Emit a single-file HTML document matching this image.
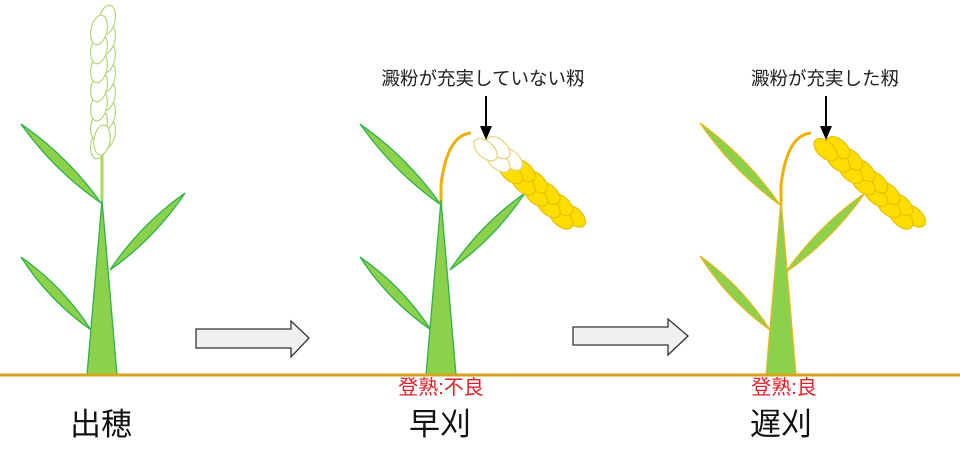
<!DOCTYPE html>
<html><head><meta charset="utf-8"><style>
html,body{margin:0;padding:0;background:#fff;width:960px;height:464px;overflow:hidden}
svg{display:block}
text{font-family:"Liberation Sans","Noto Sans CJK JP",sans-serif}
</style></head><body>
<svg id="s" width="960" height="464" viewBox="0 0 960 464" xmlns="http://www.w3.org/2000/svg">
<g id="g"></g>
<line x1="0" y1="375" x2="960" y2="375" stroke="#d9a21b" stroke-width="3"/>
<path d="M196,329 H291 V321 L309,338 L291,357 V348 H196 Z" fill="#f0f0f0" stroke="#333" stroke-width="1.3"/>
<path d="M573,327 H668 V319 L688,336 L668,355 V345 H573 Z" fill="#f0f0f0" stroke="#333" stroke-width="1.3"/>
<line x1="486" y1="96" x2="486" y2="128" stroke="#000" stroke-width="2"/>
<path d="M480,126 L492,126 L486,140 Z" fill="#000"/>
<line x1="826" y1="96" x2="826" y2="128" stroke="#000" stroke-width="2"/>
<path d="M820,126 L832,126 L826,140 Z" fill="#000"/>
<text x="483" y="85" font-size="18.5" text-anchor="middle" fill="#222">澱粉が充実していない籾</text>
<text x="825" y="85" font-size="18.5" text-anchor="middle" fill="#222">澱粉が充実した籾</text>
<text x="441" y="394" font-size="20" text-anchor="middle" fill="#e0202a">登熟:不良</text>
<text x="784" y="394" font-size="20" text-anchor="middle" fill="#e0202a">登熟:良</text>
<text x="101" y="435" font-size="31" text-anchor="middle" fill="#111">出穂</text>
<text x="440" y="435" font-size="31" text-anchor="middle" fill="#111">早刈</text>
<text x="781" y="435" font-size="31" text-anchor="middle" fill="#111">遅刈</text>
</svg>
<script>
var g=document.getElementById('g'),h='';
function leaf(a,b,c,d,w,st){var mx=(a+c)/2,my=(b+d)/2,dx=c-a,dy=d-b,L=Math.hypot(dx,dy),nx=-dy/L*w,ny=dx/L*w;
h+='<path d="M'+a+','+b+' Q'+(mx+nx)+','+(my+ny)+' '+c+','+d+' Q'+(mx-nx)+','+(my-ny)+' '+a+','+b+'Z" fill="#8cd04b" stroke="'+st+'" stroke-width="1.3"/>';}
function stem(x,top,st){h+='<path d="M'+(x-15)+',375 L'+x+','+top+' L'+(x+15)+',375Z" fill="#8cd04b" stroke="'+st+'" stroke-width="1.3"/>';}
function grain(cx,cy,rx,ry,ang,fill,st){h+='<ellipse cx="'+cx+'" cy="'+cy+'" rx="'+rx+'" ry="'+ry+'" transform="rotate('+ang+' '+cx+' '+cy+')" fill="'+fill+'" stroke="'+st+'" stroke-width="1.2"/>';}
h+='<line x1="102" y1="150" x2="102" y2="200" stroke="#a8d85a" stroke-width="3"/>';
for(var i=6;i>=0;i--){var y=20+i*19;grain(107,y,8,15,12,'#fff','#b5d67a');grain(99,y+10,8,15,12,'#fff','#b5d67a');}
grain(102,140,8,15,8,'#fff','#b5d67a');
leaf(21,124,101,203,10,'#2fb24a');leaf(110,270,185,193,10,'#2fb24a');leaf(21,257,91,330,10,'#2fb24a');
stem(102,200,'#2fb24a');
function bent(x0,whiteN){
 h+='<path d="M'+(x0)+',205 L'+x0+',185 Q'+(x0+6)+',135 '+(x0+30)+',133" fill="none" stroke="#f0b000" stroke-width="3"/>';
 var sx=x0+48,sy=146,dx=0.74,dy=0.67,px=0.67,py=-0.74,n=7;
 for(var i=n-1;i>=0;i--){var t=i*17;var cx=sx+dx*t,cy=sy+dy*t;
  var f=i<whiteN?'#fff':'#ffdd00',s=i<whiteN?'#e8d27a':'#e8c000';
  grain(cx+px*5+dx*8,cy+py*5+dy*8,14,8,42,f,s);grain(cx-px*5,cy-py*5,14,8,42,f,s);}
}
leaf(360,124,441,205,10,'#2fb24a');leaf(450,270,525,193,10,'#2fb24a');leaf(360,257,431,330,10,'#2fb24a');
bent(441,2);
stem(441,200,'#2fb24a');
leaf(700,123,780,205,10,'#e8b820');leaf(785,273,865,193,10,'#e8b820');leaf(700,256,770,330,10,'#e8b820');
bent(781,0);
stem(781,200,'#e8b820');
g.innerHTML=h;
</script>
</body></html>
